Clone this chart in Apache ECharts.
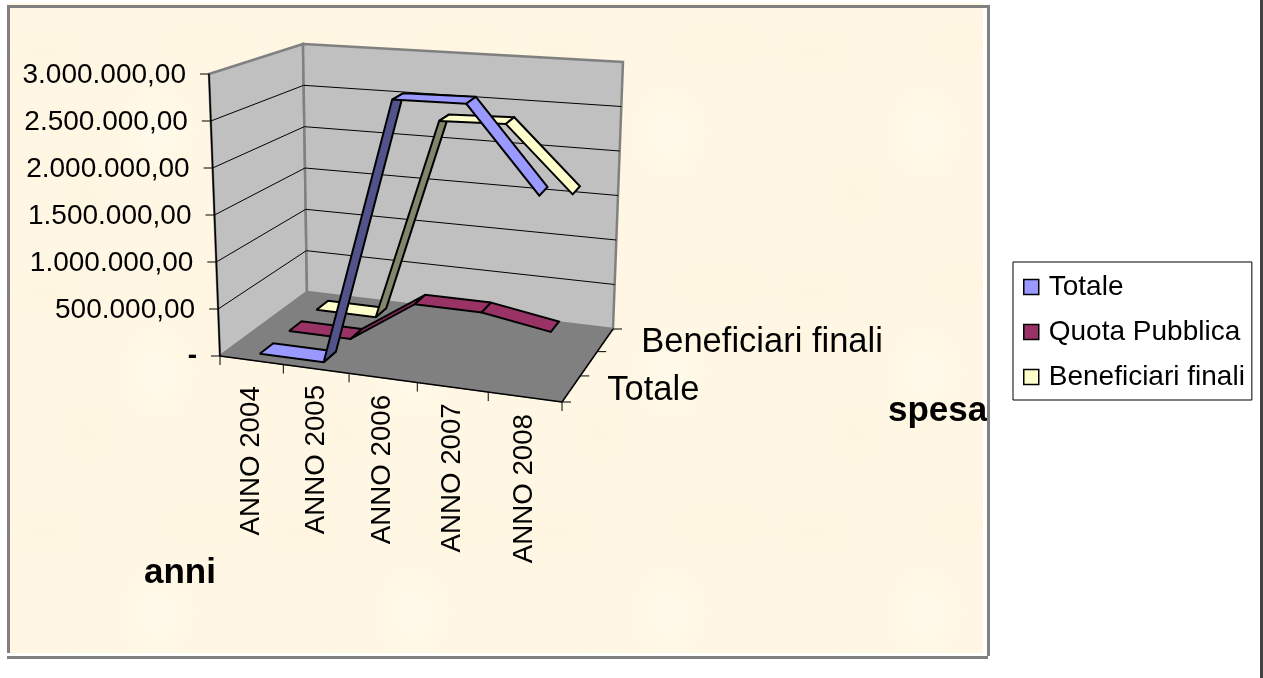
<!DOCTYPE html>
<html><head><meta charset="utf-8">
<style>
html,body{margin:0;padding:0;background:#fff;overflow:hidden}
#paper{position:absolute;left:7px;top:3px;width:976px;height:650px;background-color:#fff7e3;
background-image:radial-gradient(ellipse 40px 24px at 40px 50px,rgba(254,241,216,.4),transparent),radial-gradient(ellipse 40px 50px at 150px 130px,rgba(255,252,240,.6),transparent),radial-gradient(ellipse 50px 26px at 200px 40px,rgba(253,243,220,.35),transparent),radial-gradient(ellipse 30px 30px at 80px 190px,rgba(253,242,218,.35),transparent);background-size:256px 240px}
#chart{position:absolute;left:0;top:0;width:1263px;height:678px}
</style></head><body>
<div id="paper"></div><div id="chart"></div>
<script src="https://cdn.jsdelivr.net/npm/echarts@6/dist/echarts.min.js"></script>
<script>
const categories=['ANNO 2004','ANNO 2005','ANNO 2006','ANNO 2007','ANNO 2008'];
const seriesNames=['Totale','Quota Pubblica','Beneficiari finali'];
const totale=[0,0,2870000,2900000,2020000];
const quotaPubblica=[0,0,470000,470000,350000];
const beneficiariFinali=[0,0,2320000,2345000,1625000];
const yTicks=[0,500000,1000000,1500000,2000000,2500000,3000000];
const yTickLabels=['-','500.000,00','1.000.000,00','1.500.000,00','2.000.000,00','2.500.000,00','3.000.000,00'];
const depthLabels=['Totale','','Beneficiari finali'];

const seriesValues=[totale,quotaPubblica,beneficiariFinali];
const fills=['#9999FF','#993366','#FFFFCC'];
const darks=['#53538C','#8A2C5A','#85856B'];
const catLabelDrop=[26,16,17,16,17];
const FONT='"Liberation Sans",Arial,sans-serif';
// box corners on screen
const C={A:[220,356],B:[562,402],Cc:[613,329],D:[307,292],E:[209,74],F:[579,110],G:[623,62],H:[303,44]};
const pu=u=>u/(u+(1-u)*1.1), pw=w=>w/(w+(1-w)*0.9);
function mix(a,b,t){return [a[0]+(b[0]-a[0])*t,a[1]+(b[1]-a[1])*t];}
function proj(u,v,w){
  const U=pu(u),W=pw(w);
  const bot=mix(mix(C.A,C.B,U),mix(C.D,C.Cc,U),W);
  const top=mix(mix(C.E,C.F,U),mix(C.H,C.G,U),W);
  return mix(bot,top,v);
}
function norm(api,params,i,val){
  const cs=params.coordSys,p=api.coord([i,val]);
  return [(p[0]-cs.x)/cs.width,(cs.y+cs.height-p[1])/cs.height];
}
const line=(a,b,col,lw)=>({type:'line',shape:{x1:a[0],y1:a[1],x2:b[0],y2:b[1]},style:{stroke:col,lineWidth:lw}});
const poly=(pts,fill,stroke,lw)=>({type:'polygon',shape:{points:pts},style:{fill:fill,stroke:stroke,lineWidth:lw,lineJoin:'miter',miterLimit:2}});

function renderFrame(params,api){
  const ch=[];
  ch.push(poly([C.E,C.H,C.D,C.A],'#C0C0C0','#808080',2.5));
  ch.push(poly([C.H,C.G,C.Cc,C.D],'#C0C0C0','#808080',2.5));
  ch.push(poly([C.A,C.B,C.Cc,C.D],'#808080','#808080',1));
  yTicks.forEach((t,k)=>{
    const v=norm(api,params,0,t)[1];
    if(v>0&&v<1){
      ch.push(line(proj(0,v,0),proj(0,v,1),'#000',1));
      ch.push(line(proj(0,v,1),proj(1,v,1),'#000',1));
    }
    const p=proj(0,v,0);
    ch.push(line([p[0]-9,p[1]],p,'#000',1));
    ch.push({type:'text',x:p[0]-23,y:p[1]+(t===0?0:1),style:{text:yTickLabels[k],font:(t===0?'bold ':'')+'28px '+FONT,fill:'#000',align:'right',verticalAlign:'middle'}});
  });
  ch.push(line(C.E,C.A,'#000',1.5));
  ch.push(line(C.A,C.B,'#000',1.5));
  ch.push(line(C.B,C.Cc,'#000',1.5));
  for(let i=0;i<=categories.length;i++){
    const p=proj(i/categories.length,0,0);
    ch.push(line(p,[p[0],p[1]+9],'#000',1));
  }
  for(let i=0;i<=seriesNames.length;i++){
    const p=proj(1,0,i/seriesNames.length);
    ch.push(line(p,[p[0]+9,p[1]],'#000',1));
  }
  return {type:'group',children:ch};
}
function renderRibbon(s){
  const w=(s+.5)/seriesNames.length,dw=.075,vals=seriesValues[s];
  return function(params,api){
    const i=params.dataIndex;
    if(i>=vals.length-1)return null;
    const a=norm(api,params,i,vals[i]),b=norm(api,params,i+1,vals[i+1]);
    const rising=vals[i+1]>vals[i]*1.2&&vals[i+1]>0;
    return poly([proj(a[0],a[1],w-dw),proj(a[0],a[1],w+dw),proj(b[0],b[1],w+dw),proj(b[0],b[1],w-dw)],
      rising?darks[s]:fills[s],'#000',2);
  };
}
function renderLabels(params,api){
  const ch=[];
  categories.forEach((c,i)=>{
    const n=norm(api,params,i,0),p=proj(n[0],0,0);
    ch.push({type:'text',x:p[0],y:p[1]+catLabelDrop[i],rotation:Math.PI/2,style:{text:c,font:'27.7px '+FONT,fill:'#000',align:'right',verticalAlign:'middle'}});
  });
  depthLabels.forEach((t,i)=>{
    if(!t)return;
    const p=proj(1,0,(i+.5)/depthLabels.length);
    ch.push({type:'text',x:p[0]+36,y:p[1]+2,style:{text:t,font:'34.5px '+FONT,fill:'#000',align:'left',verticalAlign:'middle'}});
  });
  return {type:'group',children:ch};
}
const series=[
  {type:'custom',name:'frame',renderItem:renderFrame,data:[[0,0]],silent:true,z:1},
  ...[2,1,0].map(s=>({type:'custom',name:seriesNames[s],renderItem:renderRibbon(s),
    data:seriesValues[s].map((v,i)=>[i,v]),itemStyle:{color:fills[s]},silent:true,z:2+(2-s)})),
  {type:'custom',name:'labels',renderItem:renderLabels,data:[[0,0]],silent:true,z:6}
];
const chart=echarts.init(document.getElementById('chart'),null,{renderer:'canvas'});
chart.setOption({
  animation:false,backgroundColor:'transparent',
  grid:{left:205,top:74,width:360,height:282,containLabel:false},
  xAxis:{type:'category',data:categories,show:false},
  yAxis:{type:'value',min:0,max:3000000,interval:500000,show:false},
  legend:{orient:'vertical',left:1013,top:262,padding:[11,7,9,10],itemWidth:15,itemHeight:15,itemGap:17,
    icon:'rect',backgroundColor:'#fff',borderColor:'#000',borderWidth:1,
    textStyle:{fontFamily:'Liberation Sans',fontSize:28,color:'#000',padding:[0,0,0,5]},
    data:seriesNames.map((n,i)=>({name:n,icon:'rect',itemStyle:{color:fills[i],borderColor:'#000',borderWidth:1.5}}))},
  graphic:[
    {type:'text',left:144,top:556,z:10,style:{text:'anni',font:'bold 35px '+FONT,fill:'#000'}},
    {type:'text',left:888,top:394,z:10,style:{text:'spesa',font:'bold 35px '+FONT,fill:'#000'}},
    {type:'rect',shape:{x:7,y:5,width:983,height:3},style:{fill:'#808080'},z:11},
    {type:'rect',shape:{x:987,y:5,width:3,height:651},style:{fill:'#808080'},z:11},
    {type:'rect',shape:{x:7,y:5,width:3,height:648},style:{fill:'#808080'},z:11},
    {type:'rect',shape:{x:7,y:656,width:981,height:3},style:{fill:'#808080'},z:11},
    {type:'rect',shape:{x:983,y:3,width:4,height:653},style:{fill:'#fff'},z:9},
    {type:'rect',shape:{x:1260,y:0,width:3,height:678},style:{fill:'#444444'},z:11}
  ],
  series:series
});
</script></body></html>
